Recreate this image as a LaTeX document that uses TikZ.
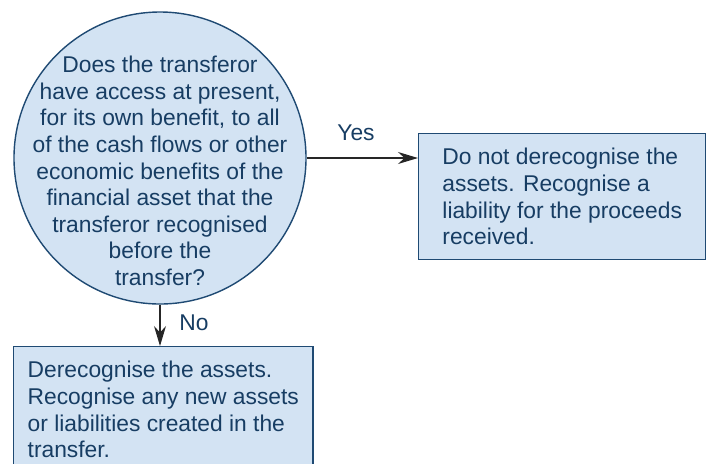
\documentclass[tikz,border=0pt]{standalone}
\usepackage{fontspec}
\setmainfont{Liberation Sans}
\usetikzlibrary{arrows.meta}
\definecolor{boxfill}{HTML}{D3E3F3}
\definecolor{boxline}{HTML}{1F4A73}
\definecolor{ink}{HTML}{173D63}

\begin{document}
\begin{tikzpicture}
    	[x=0.5pt, y=-0.5pt,
    	 txt/.style={text=ink, font=\fontsize{11.4}{13.3}\selectfont},
    	 decision/.style={circle, draw=boxline, fill=boxfill, line width=0.7pt, minimum size=146pt, inner sep=0pt},
    	 outcome/.style={rectangle, draw=boxline, fill=boxfill, line width=0.7pt, txt, align=left,
    	                 minimum height=63pt, inner xsep=7pt, anchor=north west},
    	 arr/.style={line width=0.6pt, draw=black!85, -{Stealth[length=10pt, width=6pt]}}]
    	\useasboundingbox (0,0) rectangle (709,463);
    	\clip (0,0) rectangle (709,463);

    	% question
    	\node at (160,158) [decision] (q) {};
    	\node at (160,171) [txt, align=center] (qtext) {Does the transferor\\have access at present,\\for its own benefit, to all\\of the cash flows or other\\economic benefits of the\\financial asset that the\\transferor recognised\\before the\\transfer?};

    	% answers
    	\node at (418,133) [outcome, minimum width=143.5pt] (keep) {Do not derecognise the\\assets. Recognise a\\liability for the proceeds\\received.};
    	\node at (13,346) [outcome, minimum width=148pt] (derec) {Derecognise the assets.\\Recognise any new assets\\or liabilities created in the\\transfer.};

    	\draw[arr] (q.east) -- (q.east -| keep.west);
    	\draw[arr] (q.south) -- (q.south |- derec.north);
    	\node at (356,133) [txt] (yes) {Yes};
    	\node at (194,323) [txt] (no) {No};
\end{tikzpicture}
\end{document}
